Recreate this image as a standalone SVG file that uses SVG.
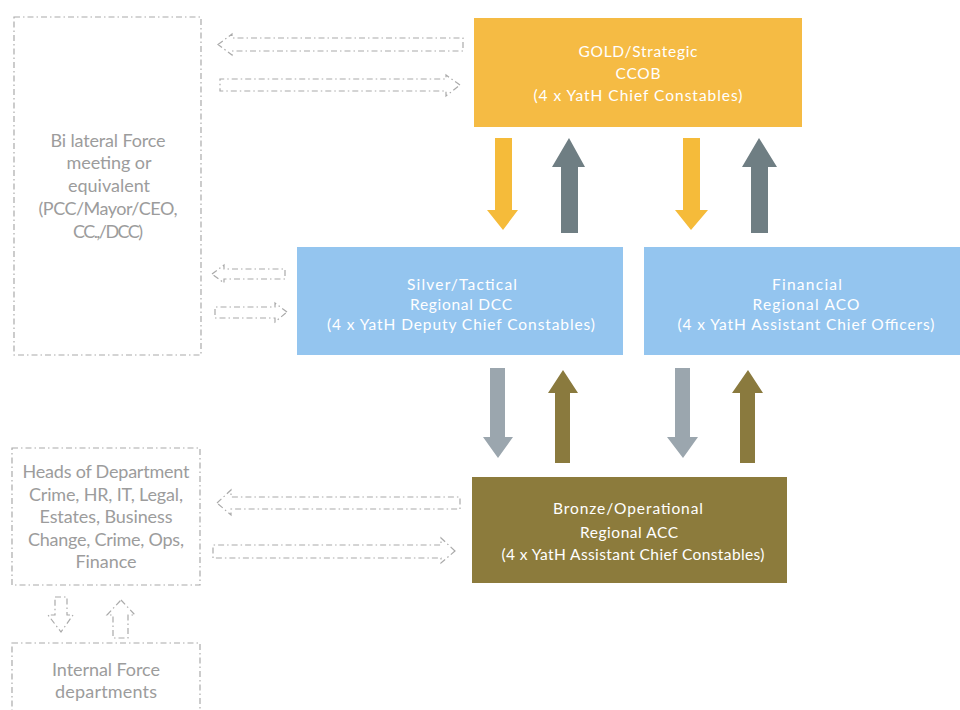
<svg xmlns="http://www.w3.org/2000/svg" width="960" height="710" viewBox="0 0 960 710">
  <style>
    .box-text { font-family: Lato, "Open Sans", "Liberation Sans", sans-serif; font-size: 15.5px; fill: #ffffff; text-anchor: middle; }
    .side-text { font-family: Lato, "Open Sans", "Liberation Sans", sans-serif; font-size: 18px; fill: #9c9c9c; text-anchor: middle; }
    .dash { fill: none; stroke: #aaaaaa; stroke-width: 1.2; stroke-dasharray: 6 3 1.5 3; }
    .gold { fill: #f5bb44; }
    .silver { fill: #94c5ef; }
    .bronze { fill: #8c7b3c; }
  </style>
  <rect width="960" height="710" fill="#ffffff"/>

  <!-- Side panels -->
  <g id="bilateral">
    <rect class="dash" x="14" y="17" width="187" height="338"/>
    <text class="side-text" x="108" y="147" textLength="115">Bi lateral Force</text>
    <text class="side-text" x="109" y="169" textLength="85">meeting or</text>
    <text class="side-text" x="109" y="192" textLength="82">equivalent</text>
    <text class="side-text" x="108" y="215" textLength="139">(PCC/Mayor/CEO,</text>
    <text class="side-text" x="108" y="238" textLength="70">CC.,/DCC)</text>
  </g>
  <g id="heads">
    <rect class="dash" x="12" y="448" width="188" height="137"/>
    <text class="side-text" x="106" y="478" textLength="167">Heads of Department</text>
    <text class="side-text" x="106" y="501" textLength="154">Crime, HR, IT, Legal,</text>
    <text class="side-text" x="106" y="523" textLength="133">Estates, Business</text>
    <text class="side-text" x="106" y="546" textLength="156">Change, Crime, Ops,</text>
    <text class="side-text" x="106" y="568" textLength="61">Finance</text>
  </g>
  <g id="internal">
    <rect class="dash" x="12" y="643" width="188" height="80"/>
    <text class="side-text" x="106" y="676" textLength="108">Internal Force</text>
    <text class="side-text" x="106" y="698" textLength="102">departments</text>
  </g>

  <!-- Command levels -->
  <g id="gold">
    <rect class="gold" x="474" y="18" width="328" height="109"/>
    <text class="box-text" x="638" y="57" textLength="119">GOLD/Strategic</text>
    <text class="box-text" x="638" y="79" textLength="45">CCOB</text>
    <text class="box-text" x="638" y="101" textLength="209">(4 x YatH Chief Constables)</text>
  </g>
  <g id="silver">
    <rect class="silver" x="297" y="247" width="326" height="108"/>
    <text class="box-text" x="462" y="290" textLength="110">Silver/Tactical</text>
    <text class="box-text" x="461" y="310" textLength="102">Regional DCC</text>
    <text class="box-text" x="461" y="330" textLength="268">(4 x YatH Deputy Chief Constables)</text>
  </g>
  <g id="financial">
    <rect class="silver" x="644" y="247" width="316" height="108"/>
    <text class="box-text" x="807" y="290" textLength="70">Financial</text>
    <text class="box-text" x="806" y="310" textLength="107">Regional ACO</text>
    <text class="box-text" x="806" y="330" textLength="257">(4 x YatH Assistant Chief Officers)</text>
  </g>
  <g id="bronze">
    <rect class="bronze" x="472" y="477" width="315" height="106"/>
    <text class="box-text" x="628" y="514" textLength="150">Bronze/Operational</text>
    <text class="box-text" x="629" y="538" textLength="98">Regional ACC</text>
    <text class="box-text" x="633" y="560" textLength="263">(4 x YatH Assistant Chief Constables)</text>
  </g>

  <g id="connectors">
    <!-- Gold <-> Silver / Financial -->
    <path fill="#f5bb3a" d="M495,138 H512 V210 H518 L503,230 L487,210 H495 Z"/>
    <path fill="#6f7e83" d="M569,138 L585,167 H578 V233 H561 V167 H552 Z"/>
    <path fill="#f5bb3a" d="M683,138 H700 V210 H708 L691,230 L675,210 H683 Z"/>
    <path fill="#6f7e83" d="M759,138 L777,167 H768 V233 H751 V167 H742 Z"/>

    <!-- Silver / Financial <-> Bronze -->
    <path fill="#9ba6ae" d="M490,368 H505 V437 H513 L498,458 L483,437 H490 Z"/>
    <path fill="#8a7a3e" d="M563,370 L578,393 H570 V463 H555 V393 H548 Z"/>
    <path fill="#9ba6ae" d="M675,368 H690 V437 H698 L683,458 L667,437 H675 Z"/>
    <path fill="#8a7a3e" d="M748,370 L763,393 H755 V463 H740 V393 H732 Z"/>

    <!-- Side links: Bilateral <-> Gold -->
    <path class="dash" d="M218,44.5 L232,34 V38 H463 V51 H232 V55 Z"/>
    <path class="dash" d="M460,85 L446,75 V79 H220 V91 H446 V96 Z"/>
    <!-- Bilateral <-> Silver -->
    <path class="dash" d="M212,274 L224,265 V269 H285 V279 H224 V283 Z"/>
    <path class="dash" d="M287,312 L275,303 V307 H215 V318 H275 V322 Z"/>
    <!-- Heads <-> Bronze -->
    <path class="dash" d="M217,503 L231,490 V497 H460 V509 H231 V515 Z"/>
    <path class="dash" d="M455,551 L441,538 V545 H213 V558 H441 V563 Z"/>
    <!-- Heads <-> Internal -->
    <path class="dash" d="M55,597 H67 V615 H73 L61,632 L48,615 H55 Z"/>
    <path class="dash" d="M121,600 L135,615 H128 V638 H113 V615 H107 Z"/>
  </g>
</svg>
